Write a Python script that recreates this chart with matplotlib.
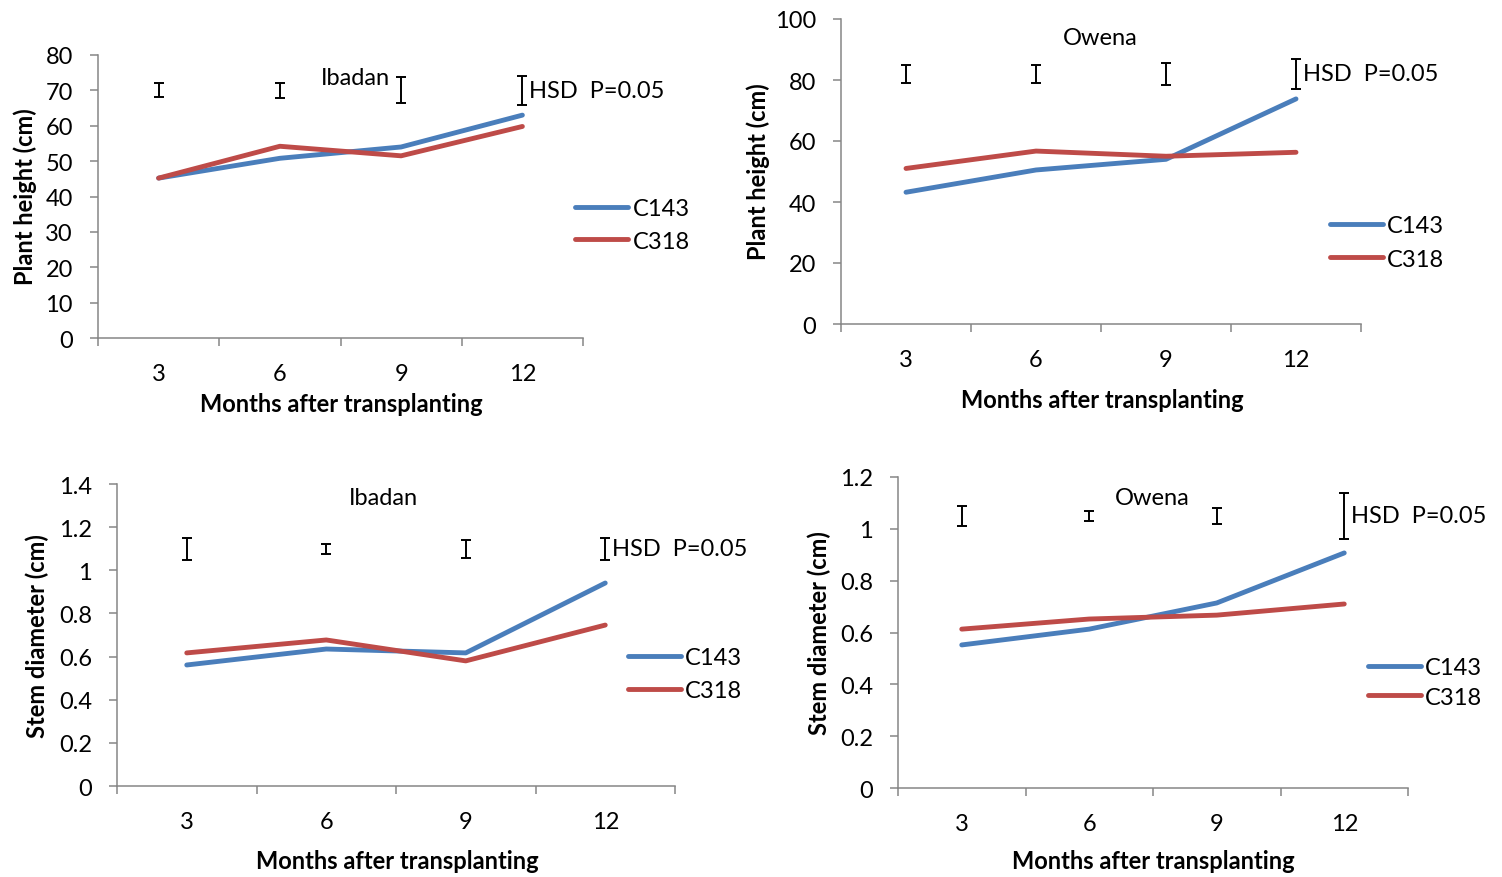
import numpy as np
import matplotlib.pyplot as plt
from matplotlib.ticker import FixedLocator, NullFormatter

plt.rcParams['font.family'] = ['Lato', 'DejaVu Sans']

W, H = 1502, 878
FS = 17

# data
months = ['3', '6', '9', '12']

ht_ibadan_c143 = [45.2, 50.8, 54.0, 63.0]
ht_ibadan_c318 = [45.2, 54.2, 51.5, 59.8]
ht_ibadan_hsd = [70, 70, 70, 70]
ht_ibadan_err = [2.0, 2.2, 3.7, 4.0]

ht_owena_c143 = [43.2, 50.5, 54.0, 73.8]
ht_owena_c318 = [51.0, 56.7, 55.0, 56.3]
ht_owena_hsd = [82, 82, 82, 82]
ht_owena_err = [3.0, 2.9, 3.6, 5.0]

sd_ibadan_c143 = [0.561, 0.635, 0.617, 0.941]
sd_ibadan_c318 = [0.617, 0.677, 0.580, 0.746]
sd_ibadan_hsd = [1.10, 1.10, 1.10, 1.10]
sd_ibadan_err = [0.050, 0.023, 0.042, 0.050]

sd_owena_c143 = [0.552, 0.613, 0.714, 0.907]
sd_owena_c318 = [0.613, 0.652, 0.667, 0.710]
sd_owena_hsd = [1.05, 1.05, 1.05, 1.05]
sd_owena_err = [0.040, 0.020, 0.030, 0.090]

blue = '#4A7EBB'
red = '#BE4B48'
grey = '#868686'

fig = plt.figure(figsize=(W / 100, H / 100), dpi=100)


def px(x, y):
    return x / W, 1 - y / H


def panel(box, ymax, ystep, c143, c318, hsd, err, site, site_xy,
          leg_xy, leg_space, ylabel, ylab_xy, xlab_xy):
    l, t, r, b = box
    ax = fig.add_axes([l / W, 1 - b / H, (r - l) / W, (b - t) / H])
    x = np.arange(1, len(months) + 1)
    ax.plot(x, c143, color=blue, lw=3.5, solid_capstyle='round', label='C143')
    ax.plot(x, c318, color=red, lw=3.5, solid_capstyle='round', label='C318')
    ax.errorbar(x, hsd, yerr=err, fmt='none', ecolor='black', elinewidth=1.4,
                capsize=3.8, capthick=1.4)
    ax.annotate('HSD  P=0.05', xy=(x[-1], hsd[-1]), xytext=(5, 0),
                textcoords='offset points', va='center', ha='left', fontsize=FS)
    ax.text(site_xy[0], site_xy[1], site, transform=ax.transAxes,
            ha='center', va='center', fontsize=FS)

    ax.set_xlim(0.5, len(months) + 0.5)
    ax.set_ylim(0, ymax)
    yt = np.arange(0, ymax + ystep / 2, ystep)
    ax.set_yticks(yt)
    ax.set_yticklabels([f'{v:g}' for v in yt])
    ax.xaxis.set_major_locator(FixedLocator(np.arange(0.5, len(months) + 1, 1)))
    ax.xaxis.set_major_formatter(NullFormatter())
    ax.xaxis.set_minor_locator(FixedLocator(x))
    ax.set_xticklabels(months, minor=True)
    ax.tick_params(axis='x', which='major', direction='out', length=6,
                   width=1.1, color=grey)
    ax.tick_params(axis='x', which='minor', length=0, pad=18, labelsize=FS)
    ax.tick_params(axis='y', direction='out', length=6, width=1.1,
                   color=grey, pad=12, labelsize=FS)
    for s in ['top', 'right']:
        ax.spines[s].set_visible(False)
    for s in ['left', 'bottom']:
        ax.spines[s].set_color(grey)
        ax.spines[s].set_linewidth(1.1)

    ax.legend(loc='center left', bbox_to_anchor=leg_xy, frameon=False,
              borderpad=0, borderaxespad=0, handlelength=2.25,
              handletextpad=0.17, labelspacing=leg_space, fontsize=FS)

    fig.text(*px(*xlab_xy), 'Months after transplanting', ha='center',
             va='center', fontsize=FS, fontweight='bold')
    fig.text(*px(*ylab_xy), ylabel, ha='center', va='center', rotation=90,
             fontsize=FS, fontweight='bold')
    return ax


panel((98, 56, 583, 339), 80, 10, ht_ibadan_c143, ht_ibadan_c318,
      ht_ibadan_hsd, ht_ibadan_err, 'Ibadan', (0.53, 0.92),
      (0.984, 0.4), 0.5, 'Plant height (cm)', (25, 197), (341, 405))

panel((841, 20, 1361, 325), 100, 20, ht_owena_c143, ht_owena_c318,
      ht_owena_hsd, ht_owena_err, 'Owena', (0.498, 0.94),
      (0.94, 0.268), 0.54, 'Plant height (cm)', (758, 172), (1102, 401))

panel((117, 485, 675, 787), 1.4, 0.2, sd_ibadan_c143, sd_ibadan_c318,
      sd_ibadan_hsd, sd_ibadan_err, 'Ibadan', (0.477, 0.955),
      (0.916, 0.37), 0.5, 'Stem diameter (cm)', (37, 636), (397, 862))

panel((898, 478, 1408, 789), 1.2, 0.2, sd_owena_c143, sd_owena_c318,
      sd_owena_hsd, sd_owena_err, 'Owena', (0.498, 0.935),
      (0.922, 0.34), 0.37, 'Stem diameter (cm)', (819, 633), (1153, 862))

fig.savefig('out.png', dpi=100)
